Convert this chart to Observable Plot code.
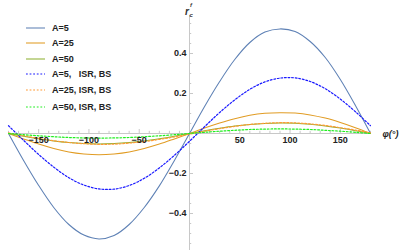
<!DOCTYPE html>
<html>
<head>
<meta charset="utf-8">
<script src="https://cdn.jsdelivr.net/npm/d3@7"></script>
<script src="https://cdn.jsdelivr.net/npm/@observablehq/plot@0.6"></script>
<style>
  body { margin: 0; background: #fff; }
  #wrap { position: relative; width: 399px; height: 251px; font-family: "Liberation Sans", Arial, sans-serif; }
  #wrap svg { display: block; }
  .leg { position: absolute; left: 26px; top: 0; font-size: 9px; font-weight: bold; color: #222; }
  .row { position: absolute; left: 0; height: 10px; white-space: pre; display: flex; align-items: center; }
  .row svg { width: 20px; height: 4px; margin-right: 6px; display: block; }
  .ylab { position: absolute; left: 185px; top: 2px; font-size: 10px; font-style: italic; font-weight: bold; color: #333; }
</style>
</head>
<body>
<div id="wrap"></div>
<script>
// ---- data ----
const phi = [-180,-165,-150,-135,-120,-105,-90,-75,-60,-45,-30,-15,0,15,30,45,60,75,90,105,120,135,150,165,180];
const a5    = [0,-0.135,-0.26,-0.37,-0.455,-0.508,-0.527,-0.51,-0.455,-0.37,-0.262,-0.135,0,0.135,0.26,0.37,0.455,0.507,0.523,0.51,0.46,0.38,0.27,0.14,0];
const a25   = [0,-0.027,-0.053,-0.075,-0.092,-0.102,-0.106,-0.102,-0.092,-0.075,-0.053,-0.027,0,0.027,0.052,0.074,0.091,0.101,0.104,0.102,0.093,0.077,0.055,0.029,0];
const a50   = [0,-0.0135,-0.026,-0.037,-0.045,-0.05,-0.052,-0.05,-0.045,-0.037,-0.026,-0.0135,0,0.0135,0.026,0.037,0.045,0.05,0.052,0.051,0.046,0.038,0.027,0.014,0];
const isr5  = [0.039,-0.034,-0.105,-0.168,-0.221,-0.258,-0.277,-0.278,-0.26,-0.224,-0.172,-0.109,-0.039,0.034,0.105,0.168,0.221,0.258,0.277,0.278,0.26,0.224,0.172,0.109,0.039];
const isr25 = [0.003,-0.011,-0.0245,-0.036,-0.045,-0.051,-0.054,-0.053,-0.048,-0.04,-0.0295,-0.017,-0.003,0.011,0.0245,0.036,0.045,0.051,0.054,0.053,0.048,0.04,0.029,0.017,0.003];
const isr50 = [0,-0.006,-0.0115,-0.016,-0.02,-0.022,-0.023,-0.022,-0.02,-0.016,-0.0115,-0.006,0,0.006,0.0115,0.016,0.02,0.022,0.023,0.022,0.02,0.016,0.0115,0.006,0];

const seriesNames = ["A=5","A=25","A=50","A=5,   ISR, BS","A=25, ISR, BS","A=50, ISR, BS"];
const xTickValues = [-150,-100,-50,50,100,150];
const xTickLabels = ["\u2212150","\u2212100","\u221250","50","100","150"];
const yTickValues = [-0.4,-0.2,0.2,0.4];
const yTickLabels = ["\u22120.4","\u22120.2","0.2","0.4"];
const xLabel = "\u03c6(\u00b0)";

// ---- styles ----
const colors = ["#5E81B5","#E19C24","#8FB032","#1a1aff","#FF9933","#22ee22"];
const dashed = [false,false,false,true,true,true];
const allSeries = [a5,a25,a50,isr5,isr25,isr50];

const data = allSeries.map((vals, i) => phi.map((p, j) => ({phi: p, r: vals[j], s: i})));

const xMinor = d3.range(-180, 181, 10).filter(v => v !== 0);
const yMinor = d3.range(-0.55, 0.56, 0.05).map(v => Math.round(v*100)/100).filter(v => Math.abs(v) > 1e-9);
const isXMajor = v => v % 50 === 0;
const isYMajor = v => Math.abs(Math.round(v*10) - v*10) < 1e-6 && Math.round(v*10) % 2 === 0;

const axisColor = "#c8c8c8";
const font = {fontSize: 9, fontWeight: "bold", fill: "#222", fontFamily: "Liberation Sans, Arial, sans-serif"};

const marks = [
  Plot.ruleY([0], {stroke: axisColor, strokeWidth: 1}),
  Plot.ruleX([0], {stroke: axisColor, strokeWidth: 1}),
  Plot.ruleX(xMinor, {x: d => d, y1: 0, y2: d => isXMajor(d) ? 0.02 : 0.011, stroke: axisColor}),
  Plot.ruleY(yMinor, {y: d => d, x1: 0, x2: d => isYMajor(d) ? 4 : 2.2, stroke: axisColor}),
];
data.forEach((d, i) => {
  marks.push(Plot.line(d, {
    x: "phi", y: "r", stroke: colors[i], curve: "catmull-rom",
    strokeWidth: dashed[i] ? 1.2 : 1.05,
    strokeDasharray: dashed[i] ? "1.8,1.8" : null
  }));
});
marks.push(
  Plot.text(xTickValues, {x: d => d, y: 0, text: (d, i) => xTickLabels[i], dy: 6.5, ...font}),
  Plot.text(yTickValues, {x: 0, y: d => d, text: (d, i) => yTickLabels[i], textAnchor: "end", dx: -3, ...font}),
  Plot.text([xLabel], {x: 180, y: 0, text: d => d, textAnchor: "start", dx: 12, dy: 1, ...font, fontStyle: "italic"})
);

const chart = Plot.plot({
  width: 399, height: 251,
  marginLeft: 8, marginRight: 29, marginTop: 15, marginBottom: 1,
  x: {domain: [-180, 180], axis: null},
  y: {domain: [-0.585, 0.59], axis: null},
  style: {background: "white", overflow: "visible"},
  marks
});

const wrap = document.getElementById("wrap");
wrap.appendChild(chart);

// y-axis label r_c^f
const yl = document.createElement("div");
yl.className = "ylab";
yl.innerHTML = '<span style="position:absolute;left:0;top:4px;">r</span>' +
  '<span style="position:absolute;left:5px;top:0px;font-size:6px;">f</span>' +
  '<span style="position:absolute;left:4.5px;top:10px;font-size:6px;">c</span>';
wrap.appendChild(yl);

// legend
const leg = document.createElement("div");
leg.className = "leg";
const rowY = [28.3, 43.3, 59, 74, 90, 106.7];
seriesNames.forEach((name, i) => {
  const row = document.createElement("div");
  row.className = "row";
  row.style.top = (rowY[i] - 5) + "px";
  const dash = dashed[i] ? 'stroke-dasharray="1.8,1.8" stroke-width="1.2"' : 'stroke-width="1.05"';
  row.innerHTML = `<svg viewBox="0 0 20 4"><line x1="0" y1="2" x2="19" y2="2" stroke="${colors[i]}" ${dash}/></svg><span>${name}</span>`;
  leg.appendChild(row);
});
wrap.appendChild(leg);
</script>
</body>
</html>
